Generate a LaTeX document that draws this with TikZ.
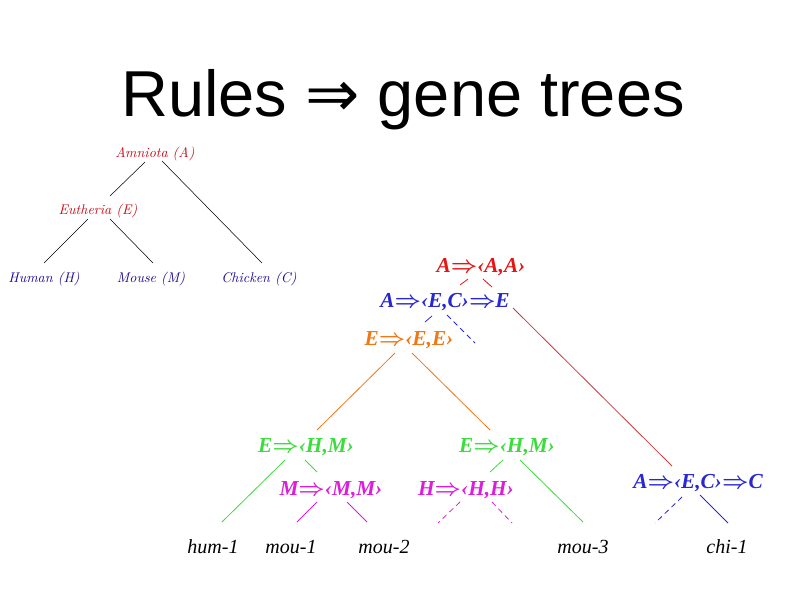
\documentclass[tikz,border=0pt]{standalone}
\usepackage{fontspec}
\setmainfont{Liberation Serif}
\newfontfamily\titlefont{Liberation Sans}
\newfontfamily\arrowfont{DejaVu Sans}
\definecolor{tred}{RGB}{230,20,20}
\definecolor{tblue}{RGB}{40,40,210}
\definecolor{torange}{RGB}{240,120,20}
\definecolor{tgreen}{RGB}{60,220,60}
\definecolor{tmag}{RGB}{220,30,220}
\definecolor{lred}{RGB}{200,10,20}
\definecolor{lblue}{RGB}{30,10,150}
\definecolor{lline}{RGB}{200,60,60}
\newcommand{\rarr}{{\boldmath$\Rightarrow$}}
\tikzset{
  rulet/.style={font=\fontsize{16}{18}\selectfont\bfseries\itshape, anchor=base, inner sep=0pt},
  leaf/.style={font=\fontsize{15}{17}\selectfont\itshape, anchor=base, inner sep=0pt},
  sp/.style={font=\fontsize{10.5}{12}\selectfont\fontfamily{lmr}\selectfont\itshape, anchor=base, inner sep=0pt},
  ln/.style={line width=0.6pt},
  tln/.style={line width=0.4pt},
  dln/.style={line width=0.6pt, dash pattern=on 4pt off 3pt},
}
\begin{document}
\begin{tikzpicture}[x=0.75pt,y=-0.75pt]
\useasboundingbox (0,0) rectangle (800,600);
% title
\node[anchor=base, inner sep=0pt, font=\fontsize{48.7}{52}\selectfont\titlefont] (title) at (403,116) {Rules {\arrowfont ⇒} gene trees};
% species tree
\node[sp, text=lred] (amn) at (155,157) {Amniota (A)};
\node[sp, text=lred] (eut) at (98,214) {Eutheria (E)};
\node[sp, text=lblue] (hum) at (44,282) {Human (H)};
\node[sp, text=lblue] (mou) at (151,282) {Mouse (M)};
\node[sp, text=lblue] (chk) at (259,282) {Chicken (C)};
\coordinate (a1) at (145,162); \coordinate (a2) at (110,196);
\coordinate (a3) at (162,161); \coordinate (a4) at (262,263);
\coordinate (e1) at (88,219); \coordinate (e2) at (44,263);
\coordinate (e3) at (110,219); \coordinate (e4) at (153,263);
\draw[tln] (a1) -- (a2);
\draw[tln] (a3) -- (a4);
\draw[tln] (e1) -- (e2);
\draw[tln] (e3) -- (e4);
% gene tree
\node[rulet, text=tred] (r1) at (481,272) {A\rarr‹A,A›};
\node[rulet, text=tblue] (r2) at (445,307) {A\rarr‹E,C›\rarr E};
\node[rulet, text=torange] (r3) at (409,345) {E\rarr‹E,E›};
\node[rulet, text=tgreen] (g1) at (306,452) {E\rarr‹H,M›};
\node[rulet, text=tgreen] (g2) at (507,452) {E\rarr‹H,M›};
\node[rulet, text=tmag] (m1) at (331,495) {M\rarr‹M,M›};
\node[rulet, text=tmag] (m2) at (466,495) {H\rarr‹H,H›};
\node[rulet, text=tblue] (b2) at (698,488) {A\rarr‹E,C›\rarr C};
\node[leaf] (hum1) at (213,553) {hum-1};
\node[leaf] (mou1) at (291,553) {mou-1};
\node[leaf] (mou2) at (384,553) {mou-2};
\node[leaf] (mou3) at (583,553) {mou-3};
\node[leaf] (chi1) at (727,553) {chi-1};
% connectors
\coordinate (p1) at (468,279); \coordinate (p2) at (460,285);
\coordinate (p3) at (483,279); \coordinate (p4) at (492,287);
\coordinate (p5) at (513,308); \coordinate (p6) at (672,466);
\draw[ln, tred] (p1) -- (p2);
\draw[ln, tred] (p3) -- (p4);
\draw[ln, lline] (p5) -- (p6);
\coordinate (q1) at (432,316); \coordinate (q2) at (425,322);
\coordinate (q3) at (447,315); \coordinate (q4) at (475,343);
\draw[ln, tblue] (q1) -- (q2);
\draw[dln, tblue] (q3) -- (q4);
\coordinate (o1) at (395,353); \coordinate (o2) at (317,430);
\coordinate (o3) at (412,353); \coordinate (o4) at (490,430);
\draw[ln, torange] (o1) -- (o2);
\draw[ln, torange] (o3) -- (o4);
\coordinate (s1) at (285,460); \coordinate (s2) at (222,522);
\coordinate (s3) at (305,460); \coordinate (s4) at (317,472);
\draw[ln, tgreen] (s1) -- (s2);
\draw[ln, tgreen] (s3) -- (s4);
\coordinate (t1) at (317,502); \coordinate (t2) at (297,522);
\coordinate (t3) at (347,502); \coordinate (t4) at (367,522);
\draw[ln, tmag] (t1) -- (t2);
\draw[ln, tmag] (t3) -- (t4);
\coordinate (u1) at (503,460); \coordinate (u2) at (490,472);
\coordinate (u3) at (520,460); \coordinate (u4) at (583,522);
\draw[ln, tgreen] (u1) -- (u2);
\draw[ln, tgreen] (u3) -- (u4);
\coordinate (v1) at (460,502); \coordinate (v2) at (438,523);
\coordinate (v3) at (492,502); \coordinate (v4) at (512,523);
\draw[dln, tmag] (v1) -- (v2);
\draw[dln, tmag] (v3) -- (v4);
\coordinate (w1) at (682,497); \coordinate (w2) at (655,523);
\coordinate (w3) at (700,495); \coordinate (w4) at (728,523);
\draw[dln, tblue] (w1) -- (w2);
\draw[ln, tblue] (w3) -- (w4);
\end{tikzpicture}
\end{document}
